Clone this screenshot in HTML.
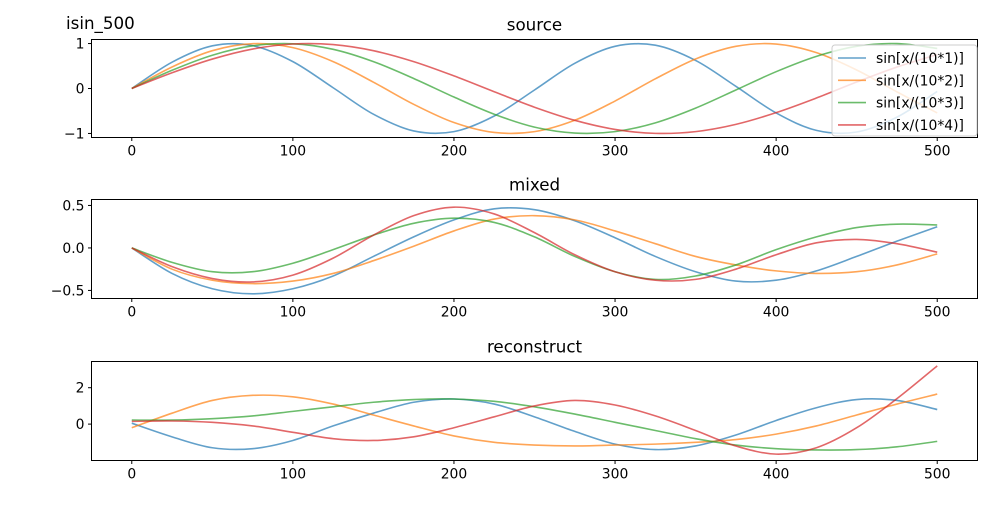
<!DOCTYPE html>
<html><head><meta charset="utf-8"><style>
body{margin:0;background:#fff}
svg text{font-family:"DejaVu Sans","Liberation Sans",sans-serif;fill:#000}
</style></head><body>
<svg id="fig" width="1000" height="500" xmlns="http://www.w3.org/2000/svg">
<rect width="1000" height="500" fill="#fff"/>
<text x="66" y="29" font-size="16.7">isin_500</text>
</svg>
<script>
const xs = [0,25,50,75,100,125,150,175,200,225,250,275,300,325,350,375,400,425,450,475,500];
const labels = ["sin[x/(10*1)]","sin[x/(10*2)]","sin[x/(10*3)]","sin[x/(10*4)]"];
const colors = ["#1f77b4","#ff7f0e","#2ca02c","#d62728"];
const xTicks = [0,100,200,300,400,500];
const sourceS1 = [0,.585,.949,.954,.598,.017,-.572,-.944,-.959,-.612,-.033,.560,.938,.963,.624,.049,-.544,-.932,-.968,-.637,-.066];
const sourceS2 = [0,.479,.841,.997,.909,.598,.141,-.351,-.757,-.978,-.959,-.706,-.279,.215,.657,.938,.989,.798,.412,-.075,-.544];
const sourceS3 = [0,.405,.740,.949,.995,.872,.598,.223,-.190,-.572,-.859,-.991,-.959,-.764,-.436,-.033,.374,.715,.938,.9996,.892];
const sourceS4 = [0,.350,.655,.878,.990,.977,.841,.598,.280,-.072,-.416,-.708,-.910,-.998,-.959,-.798,-.537,-.212,.144,.477,.756];
const mixedS1 = [0,-0.3,-0.48,-0.54,-0.48,-0.33,-0.1,0.13,0.33,0.46,0.45,0.32,0.12,-0.1,-0.28,-0.39,-0.38,-0.27,-0.1,0.08,0.25];
const mixedS2 = [0,-0.25,-0.38,-0.42,-0.39,-0.3,-0.15,0.02,0.2,0.34,0.38,0.33,0.2,0.05,-0.1,-0.2,-0.27,-0.3,-0.28,-0.2,-0.07];
const mixedS3 = [0,-0.17,-0.28,-0.28,-0.18,-0.02,0.15,0.29,0.35,0.3,0.13,-0.1,-0.28,-0.37,-0.33,-0.2,-0.02,0.13,0.24,0.28,0.27];
const mixedS4 = [0,-0.22,-0.36,-0.4,-0.32,-0.12,0.15,0.38,0.48,0.4,0.18,-0.08,-0.28,-0.38,-0.37,-0.25,-0.08,0.06,0.1,0.05,-0.05];
const reconS1 = [0.05,-0.7,-1.3,-1.35,-0.9,-0.1,0.6,1.2,1.38,1.1,0.4,-0.4,-1.1,-1.4,-1.2,-0.6,0.2,0.9,1.35,1.3,0.8];
const reconS2 = [-0.2,0.6,1.3,1.58,1.5,1.1,0.5,-0.1,-0.65,-1.0,-1.15,-1.2,-1.15,-1.1,-1.0,-0.85,-0.55,-0.1,0.5,1.1,1.65];
const reconS3 = [0.22,0.22,0.3,0.45,0.7,0.95,1.2,1.35,1.38,1.25,0.95,0.55,0.1,-0.35,-0.8,-1.15,-1.35,-1.42,-1.4,-1.25,-0.95];
const reconS4 = [0.15,0.17,0.1,-0.1,-0.45,-0.8,-0.9,-0.7,-0.2,0.4,1.0,1.3,1.05,0.45,-0.35,-1.2,-1.65,-1.3,-0.2,1.4,3.2];
const sourceTicks = [-1,0,1];
const mixedTicks = [-0.5,0,0.5];
const mixedTickLabels = ["−0.5","0.0","0.5"];
const reconTicks = [0,2];

const NS="http://www.w3.org/2000/svg";
const svg=document.getElementById('fig');
function mk(tag,attrs,parent){const e=document.createElementNS(NS,tag);for(const k in attrs)e.setAttribute(k,attrs[k]);(parent||svg).appendChild(e);return e;}
const X0=91.5,X1=977.5,XMIN=-25,XMAX=525;
const FS=13.9;
const xScale=v=>X0+(v-XMIN)/(XMAX-XMIN)*(X1-X0);
function smooth(pts){let d=`M${pts[0][0]},${pts[0][1]}`;for(let i=0;i<pts.length-1;i++){const p0=pts[Math.max(0,i-1)],p1=pts[i],p2=pts[i+1],p3=pts[Math.min(pts.length-1,i+2)];d+=` C${p1[0]+(p2[0]-p0[0])/6},${p1[1]+(p2[1]-p0[1])/6} ${p2[0]-(p3[0]-p1[0])/6},${p2[1]-(p3[1]-p1[1])/6} ${p2[0]},${p2[1]}`;}return d;}
function panel(name,title,top,bot,ymin,ymax,series,yt,ytl){
  const yScale=v=>bot-(v-ymin)/(ymax-ymin)*(bot-top);
  const g=mk('g',{});
  
  
  const t=mk('text',{x:(X0+X1)/2,y:top-9,'font-size':16.7,'text-anchor':'middle'},g);t.textContent=title;
  
  
  series.forEach((s,i)=>{
    const p=mk('path',{d:smooth(s.map((v,j)=>[xScale(xs[j]),yScale(v)])),fill:'none',stroke:colors[i],'stroke-width':1.6,'stroke-opacity':0.7},g);
    
    
  });
  const f=mk('rect',{x:X0,y:top,width:X1-X0,height:bot-top,fill:'none',stroke:'#000','stroke-width':1},g);
  
  
  xTicks.forEach(v=>{const x=xScale(v);mk('line',{x1:x,x2:x,y1:bot,y2:bot+3.5,stroke:'#000','stroke-width':1},g);
    const tx=mk('text',{x:x,y:bot+18,'font-size':FS,'text-anchor':'middle'},g);tx.textContent=v;
    
    });
  yt.forEach((v,i)=>{const y=yScale(v);mk('line',{x1:X0,x2:X0-3.5,y1:y,y2:y,stroke:'#000','stroke-width':1},g);
    const ty=mk('text',{x:X0-7,y:y+5,'font-size':FS,'text-anchor':'end'},g);ty.textContent=ytl?ytl[i]:String(v).replace('-','−');
    
    });
}
panel('source','source',39.5,137.5,-1.09,1.09,[sourceS1,sourceS2,sourceS3,sourceS4],sourceTicks);
panel('mixed','mixed',199.5,298.5,-0.595,0.57,[mixedS1,mixedS2,mixedS3,mixedS4],mixedTicks,mixedTickLabels);
panel('reconstruct','reconstruct',361.5,460.5,-2.0,3.44,[reconS1,reconS2,reconS3,reconS4],reconTicks);
const lg=mk('g',{});


mk('rect',{x:832,y:45,width:145,height:91,rx:3,fill:'#fff','fill-opacity':0.8,stroke:'#ccc'},lg);
labels.forEach((l,i)=>{const y=58+i*22.3;
  const ln=mk('line',{x1:838,x2:866,y1:y,y2:y,stroke:colors[i],'stroke-width':1.6,'stroke-opacity':0.7},lg);
  
  
  const t=mk('text',{x:876,y:y+5,'font-size':FS},lg);t.textContent=l;
  
  });
</script>
</body></html>
